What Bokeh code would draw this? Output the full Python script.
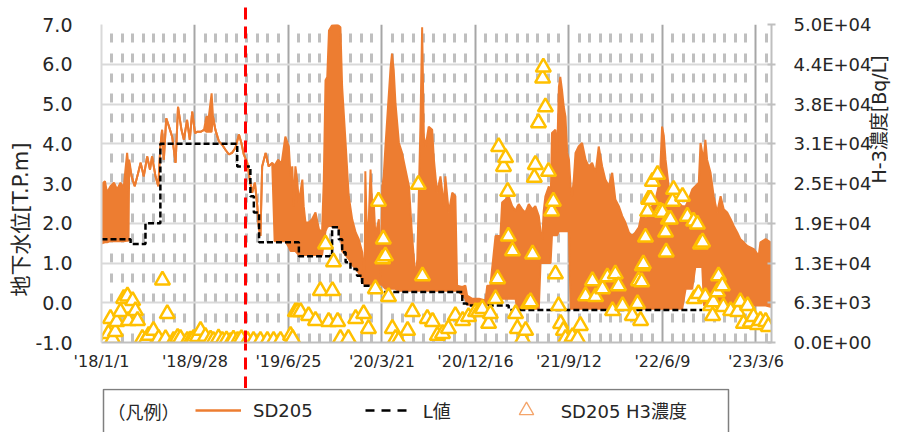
import math
import numpy as np
import pandas as pd
from bokeh.plotting import figure
from bokeh.layouts import column
from bokeh.models import (Range1d, LinearAxis, FixedTicker, PrintfTickFormatter, Legend,
                          LegendItem, Label, Title)
from bokeh.embed import file_html
from bokeh.resources import INLINE

# ---------------- data ----------------
START = pd.Timestamp("2018-01-01")
END_DAY = 1935                      # axis end (days after 2018-01-01)
EVENT_DATE = "2019-02-21"           # red dashed marker

# SD205 groundwater level envelope: days after 2018-01-01, lower / upper value [T.P.m]
wl_days = [0, 3, 10, 16, 26, 36, 45, 55, 64, 74, 78, 80,
           87, 96, 106, 113, 122, 132, 140, 146, 156, 164, 170, 175, 180, 187, 195, 204, 214,
           221, 231, 238, 247, 255, 262, 270, 276, 286, 296, 303, 310, 318, 322, 329, 339, 348,
           358, 368, 377, 387, 397, 404, 411, 421, 428, 435, 443, 450, 454, 459, 464, 474, 483,
           493, 500, 510, 520, 531, 541, 546, 551, 555, 560, 565, 570, 580, 584, 589, 599, 608,
           618, 628, 637, 642, 647, 652, 657, 666, 681, 690, 695, 705, 714, 724, 734, 743, 753,
           760, 762, 767, 772, 777, 782, 786, 791, 801, 806, 811, 815, 820, 825, 835, 839, 844,
           849, 859, 868, 878, 888, 897, 907, 912, 917, 921, 926, 931, 936, 945, 955, 960, 969,
           979, 989, 993, 1003, 1013, 1022, 1027, 1042, 1051, 1056, 1071, 1090, 1109, 1114, 1123,
           1138, 1152, 1157, 1167, 1176, 1186, 1196, 1200, 1205, 1215, 1224, 1234, 1244, 1253,
           1263, 1268, 1273, 1277, 1282, 1292, 1297, 1301, 1311, 1316, 1321, 1325, 1330, 1335,
           1340, 1345, 1350, 1355, 1359, 1364, 1369, 1378, 1388, 1398, 1407, 1417, 1427, 1436,
           1446, 1455, 1465, 1475, 1484, 1494, 1504, 1513, 1523, 1532, 1542, 1552, 1561, 1571,
           1581, 1590, 1600, 1609, 1614, 1619, 1624, 1629, 1638, 1653, 1667, 1677, 1687, 1696,
           1706, 1715, 1725, 1730, 1735, 1740, 1744, 1749, 1759, 1768, 1778, 1788, 1797, 1807,
           1817, 1826, 1836, 1845, 1855, 1865, 1884, 1898, 1903, 1918, 1932, 1935]
wl_low = [1.50, 1.50, 1.52, 1.52, 1.55, 1.55, 1.55, 1.55, 1.55, 1.56, 1.56, 3.50,
          3.18, 2.93, 3.27, 3.52, 3.18, 3.68, 3.35, 3.68, 3.18, 2.93, 3.93, 4.35, 3.60, 4.64, 4.43, 4.18, 3.52,
          4.93, 4.35, 4.10, 4.60, 4.10, 4.81, 4.27, 4.30, 4.30, 4.35, 4.30, 4.30, 4.30, 4.68, 4.35, 4.06, 3.98,
          3.85, 3.73, 3.77, 3.90, 4.23, 4.02, 3.73, 3.52, 3.10, 2.77, 3.02, 2.43, 1.93, 1.68, 3.43, 3.77, 3.43,
          3.52, 1.55, 1.55, 1.55, 1.55, 1.40, 1.30, 1.30, 1.30, 1.30, 1.25, 1.20, 1.20, 1.20, 1.20, 1.20, 1.20,
          1.20, 1.20, 1.20, 1.50, 1.80, 1.90, 1.93, 1.93, 1.93, 1.80, 1.30, 1.20, 1.10, 0.95, 0.85, 0.75, 0.60,
          0.45, 0.45, 0.45, 0.45, 0.45, 0.45, 0.45, 0.45, 0.45, 0.45, 0.45, 0.40, 0.35, 0.35, 0.35, 0.35, 0.35,
          0.35, 0.30, 0.30, 0.30, 0.30, 0.30, 0.30, 0.30, 0.30, 0.30, 0.30, 0.30, 0.30, 0.30, 0.30, 0.30, 0.30,
          0.30, 0.30, 0.30, 0.30, 0.30, 0.30, 0.30, 0.20, 0.10, -0.05, -0.05, -0.05, -0.05, -0.05, 0.00,
          0.10, 0.10, 0.10, 0.10, 0.10, 0.10, 0.10, -0.15, -0.15, -0.15, -0.15, -0.15, -0.15, -0.15,
          -0.15, 1.00, 1.00, 1.00, 1.00, 1.00, 1.00, 1.70, 1.70, 1.70, 1.80, 1.80, 1.80, 1.80,
          1.80, 1.80, 1.80, -0.15, -0.15, -0.15, -0.15, -0.15, -0.15, -0.15, -0.15, -0.15, -0.15, -0.15,
          -0.15, -0.15, -0.15, -0.15, -0.15, -0.15, -0.15, -0.15, -0.15, -0.15, -0.15, -0.15, -0.15, -0.15,
          -0.15, -0.15, -0.15, -0.15, -0.15, -0.15, -0.15, -0.15, -0.15, -0.15, -0.15, -0.15, 0.35, 0.35,
          0.35, 0.90, 0.90, 0.90, 0.90, -0.07, -0.07, -0.07, -0.07, -0.07, -0.07, -0.07, -0.07, -0.07,
          -0.07, -0.07, -0.07, -0.07, -0.07, -0.07, -0.07, -0.07, -0.07, -0.07, -0.10, -0.10]
wl_high = [2.10, 3.00, 3.06, 2.77, 2.93, 3.02, 2.85, 3.02, 2.90, 3.77, 3.40, 3.60,
           3.18, 2.93, 3.27, 3.52, 3.18, 3.68, 3.35, 3.68, 3.18, 2.93, 3.93, 4.35, 3.60, 4.64, 4.43, 4.18, 3.52,
           4.93, 4.35, 4.10, 4.60, 4.10, 4.81, 4.27, 4.30, 4.30, 4.35, 4.68, 4.68, 5.27, 4.68, 4.35, 4.06, 3.98,
           3.85, 3.73, 3.77, 3.90, 4.23, 4.02, 3.73, 3.52, 3.10, 2.77, 3.02, 2.43, 1.93, 1.68, 3.43, 3.77, 3.43,
           3.52, 3.45, 3.60, 3.50, 4.18, 3.93, 3.18, 3.43, 2.43, 3.43, 3.10, 2.52, 3.10, 2.43, 2.02, 2.02, 2.10,
           2.27, 1.85, 1.77, 3.10, 5.60, 5.68, 6.85, 6.98, 7.00, 6.93, 5.43, 4.02, 2.68, 2.10, 1.77, 1.60, 1.27,
           0.60, 3.31, 1.50, 2.10, 3.35, 2.43, 2.60, 1.68, 2.10, 0.60, 2.93, 3.18, 3.93, 4.60, 5.93, 6.27, 5.85,
           5.02, 4.02, 3.77, 3.35, 2.93, 1.68, 0.60, 1.10, 2.93, 4.43, 6.93, 4.18, 3.93, 4.43, 4.35, 3.60, 2.77,
           3.18, 2.43, 3.18, 2.27, 2.77, 2.68, 0.43, 0.40, 0.43, 0.18, 0.10, 0.10, 0.06, 0.43, 0.43,
           1.68, 1.68, 2.52, 2.60, 2.68, 2.43, 2.31, 2.40, 2.48, 2.35, 2.27, 2.48, 2.35, 2.43,
           2.18, 1.80, 1.60, 2.30, 2.68, 2.93, 2.40, 4.27, 4.35, 3.77, 5.43, 5.68, 5.35, 4.93,
           4.68, 3.77, 3.60, 2.90, 2.68, 3.10, 3.77, 3.93, 4.02, 3.60, 3.43, 3.52, 3.27, 3.93,
           3.43, 3.10, 2.93, 3.27, 2.60, 2.43, 2.18, 2.02, 1.77, 1.68, 1.77, 1.90, 2.27, 2.10,
           2.18, 2.43, 2.60, 2.93, 3.40, 4.43, 4.20, 3.60, 2.93, 2.68, 2.52, 2.43, 2.43, 2.60,
           2.85, 2.93, 3.02, 4.02, 3.77, 3.70, 4.10, 3.60, 3.27, 2.68, 2.27, 2.68, 2.35, 2.27,
           2.10, 1.93, 1.77, 1.60, 1.52, 1.43, 1.35, 1.18, 1.52, 1.60, 1.52, 1.50]

# L値 (step, value holds from each day until the next)
l_days = [0, 84, 127, 170, 392, 430, 440, 455, 570, 666, 685, 695, 705, 719, 738, 753, 790,
          1042, 1056, 1176, 1735]
l_vals = [1.60, 1.48, 2.00, 4.00, 3.43, 2.68, 2.27, 1.52, 1.17, 1.90, 1.60, 1.27, 1.02, 0.85,
          0.68, 0.43, 0.27, -0.02, -0.07, -0.18, -0.18]

# SD205 H3 concentration [Bq/L]
h3_days = [12, 20, 26, 32, 40, 44, 55, 64, 75, 78, 90, 98, 104, 118, 127, 136, 150, 165, 176, 185,
           190, 208, 220, 228, 248, 257, 266, 277, 286, 300, 315, 323, 338, 349, 361, 373, 381, 393,
           404, 422, 439, 459, 479, 497, 517, 546, 552, 560, 566, 575, 598, 618, 632, 647, 656, 667,
           670, 682, 690, 713, 734, 757, 771, 791, 800, 812, 814, 820, 829, 840, 849, 858, 884, 898,
           915, 927, 941, 956, 970, 985, 1002, 1022, 1043, 1060, 1080, 1089, 1100, 1118, 1123, 1138,
           1144, 1147, 1161, 1167, 1173, 1175, 1187, 1196, 1201, 1216, 1225, 1233, 1239, 1245, 1250,
           1253, 1262, 1274, 1276, 1282, 1291, 1300, 1305, 1311, 1320, 1326, 1334, 1340, 1354, 1360,
           1375, 1383, 1398, 1418, 1427, 1447, 1461, 1476, 1484, 1493, 1505, 1533, 1548, 1551, 1557,
           1560, 1562, 1565, 1571, 1577, 1580, 1586, 1591, 1606, 1614, 1620, 1629, 1631, 1637, 1643,
           1649, 1652, 1678, 1692, 1710, 1712, 1721, 1724, 1730, 1736, 1744, 1759, 1765, 1767, 1779,
           1782, 1793, 1796, 1817, 1837, 1845, 1854, 1866, 1874, 1883, 1894, 1903, 1918, 1926]
h3_vals = [200, 1400, 3750, 600, 1700, 3280, 4840, 6900, 7300, 3440, 6560, 5000, 3440, 620, 300, 1100,
           1880, 620, 9800, 600, 4530, 310, 800, 620, 310, 400, 620, 900, 1880, 940, 500, 310, 700, 310,
           400, 150, 500, 310, 600, 310, 310, 310, 310, 310, 310, 1100, 620, 4840, 4840, 4840, 4220, 3440,
           8130, 15470, 3280, 8130, 12660, 3280, 620, 620, 3750, 4530, 2190, 8440, 22190, 13130, 16250,
           13600, 7190, 2190, 620, 300, 1880, 4840, 24840, 10470, 3750, 3280, 1100, 1400, 2190, 4220,
           3440, 4060, 4840, 4840, 5310, 3000, 4530, 6880, 10000, 30780, 27660, 29060, 23750, 16700,
           14380, 4530, 2190, 620, 1880, 6090, 6400, 13900, 25940, 27970, 34530, 41560, 43280, 37030,
           26880, 20630, 22190, 10780, 5780, 2970, 1880, 620, 300, 900, 620, 2660, 7340, 9690, 7190,
           8440, 10310, 5000, 10780, 8910, 5780, 4220, 6090, 9690, 3440, 9530, 12030, 12340, 16560,
           20600, 22500, 22500, 25310, 26410, 20630, 20470, 17340, 14220, 19380, 19380, 22190, 24060,
           22970, 19840, 19060, 6880, 18590, 7660, 15470, 15780, 7190, 5780, 4220, 6400, 7970, 10470,
           8910, 5630, 5000, 4840, 6410, 3000, 5780, 3200, 4060, 2800, 3440, 3280, 2500]

# axis ticks
x_tick_days = [0, 270, 540, 810, 1080, 1350, 1620, 1890]
x_tick_labels = ["'18/1/1", "'18/9/28", "'19/6/25", "'20/3/21", "'20/12/16", "'21/9/12",
                 "'22/6/9", "'23/3/6"]
y_ticks = [-1, 0, 1, 2, 3, 4, 5, 6, 7]
h3_ticks = [0, 6250, 12500, 18750, 25000, 31250, 37500, 43750, 50000]
h3_tick_labels = ["0.0E+00", "6.3E+03", "1.3E+04", "1.9E+04", "2.5E+04", "3.1E+04",
                  "3.8E+04", "4.4E+04", "5.0E+04"]
legend_labels = ["SD205", "L値", "SD205 H3濃度"]

# ---------------- helpers ----------------
def to_dt(days):
    return START + pd.to_timedelta(np.asarray(days), unit="D")

def to_ms(days):
    return [int((START + pd.Timedelta(days=int(d))).value // 10**6) for d in days]

ORANGE = "#ED7D31"
GOLD = "#FFC000"
RED = "#FF0000"
TEXT = "#262626"
FONT = "DejaVu Sans, Noto Sans CJK JP"

order = np.argsort(h3_days, kind="stable")
h3_x = to_dt(np.asarray(h3_days)[order])
h3_y = np.asarray(h3_vals)[order]
ev_ms = int(pd.Timestamp(EVENT_DATE).value // 10**6)

# ---------------- main chart ----------------
p = figure(width=910, height=388, x_axis_type="datetime",
           x_range=Range1d(START, START + pd.Timedelta(days=END_DAY)),
           y_range=Range1d(-1, 7), output_backend="svg", toolbar_location=None,
           min_border_left=101, min_border_right=139, min_border_top=24, min_border_bottom=44)
p.title.text = ""
p.outline_line_color = None
p.extra_y_ranges = {"h3": Range1d(0, 50000)}

# x axis (its single minor tick draws the red dashed event marker inside the plot)
x_ticks_ms = to_ms(x_tick_days)
xa = p.xaxis[0]
xa.ticker = FixedTicker(ticks=x_ticks_ms, minor_ticks=[ev_ms])
xa.major_label_overrides = dict(zip(x_ticks_ms, x_tick_labels))
xa.major_tick_in = 0
xa.major_tick_out = 0
xa.minor_tick_in = 320
xa.minor_tick_out = 0
xa.minor_tick_line_color = RED
xa.minor_tick_line_width = 3
xa.minor_tick_line_dash = "12 7"
xa.axis_line_color = "#BFBFBF"
xa.axis_line_width = 2
xa.major_label_text_font = FONT
xa.major_label_text_font_size = "16px"
xa.major_label_text_color = TEXT
xa.major_label_standoff = 9

def marker_axis(tick_in, tick_out):
    ax = LinearAxis(ticker=FixedTicker(ticks=[], minor_ticks=[ev_ms]))
    ax.axis_line_color = None
    ax.major_tick_in = 0
    ax.major_tick_out = 0
    ax.minor_tick_in = tick_in
    ax.minor_tick_out = tick_out
    ax.minor_tick_line_color = RED
    ax.minor_tick_line_width = 3
    ax.minor_tick_line_dash = "12 7"
    ax.major_label_text_font_size = "1px"
    ax.major_label_standoff = 0
    return ax

# extensions of the event marker above and below the plot area
p.add_layout(marker_axis(0, 17), "above")
p.add_layout(marker_axis(30, 15), "below")

# left axis
ya = p.yaxis[0]
yticker = FixedTicker(ticks=y_ticks)
ya.ticker = yticker
ya.formatter = PrintfTickFormatter(format="%.1f")
ya.major_tick_in = 0
ya.major_tick_out = 0
ya.minor_tick_in = 0
ya.minor_tick_out = 0
ya.axis_line_color = "#D9D9D9"
ya.axis_line_width = 2
ya.major_label_text_font = FONT
ya.major_label_text_font_size = "19px"
ya.major_label_text_color = TEXT
ya.major_label_standoff = 29

p.add_layout(Title(text="地下水位[T.P.m]", align="left", offset=46, standoff=0,
                   text_font=FONT, text_font_size="21px", text_font_style="normal",
                   text_color=TEXT), "left")

# right axis
ra = LinearAxis(y_range_name="h3", ticker=FixedTicker(ticks=h3_ticks),
                major_label_overrides=dict(zip(h3_ticks, h3_tick_labels)))
ra.major_tick_in = 4
ra.major_tick_out = 4
ra.major_tick_line_color = "#BFBFBF"
ra.major_tick_line_width = 2
ra.minor_tick_in = 0
ra.minor_tick_out = 0
ra.axis_line_color = "#BFBFBF"
ra.axis_line_width = 2
ra.major_label_text_font = FONT
ra.major_label_text_font_size = "18px"
ra.major_label_text_color = TEXT
ra.major_label_standoff = 18
ra.axis_label = "H-3濃度[Bq/L]"
ra.axis_label_text_font = FONT
ra.axis_label_text_font_size = "19px"
ra.axis_label_text_font_style = "normal"
ra.axis_label_text_color = TEXT
ra.axis_label_standoff = 5
if "axis_label_orientation" in ra.properties():
    ra.axis_label_orientation = math.pi / 2
p.add_layout(ra, "right")

# grids
yg = p.ygrid[0]
yg.ticker = yticker
yg.grid_line_color = "#D9D9D9"
yg.grid_line_width = 2
minor_days = [d for d in range(30, END_DAY + 1, 30) if d % 270 != 0]
xg = p.xgrid[0]
xg.ticker = FixedTicker(ticks=x_ticks_ms, minor_ticks=to_ms(minor_days))
xg.grid_line_color = "#A6A6A6"
xg.grid_line_width = 2
xg.minor_grid_line_color = "#BFBFBF"
xg.minor_grid_line_width = 3
xg.minor_grid_line_dash = "9 11"

# series
wl_x = to_dt(wl_days)
p.varea(x=wl_x, y1=wl_low, y2=wl_high, fill_color=ORANGE)
p.line(wl_x, wl_high, line_color=ORANGE, line_width=2)
p.line(wl_x, wl_low, line_color=ORANGE, line_width=2)
p.step(to_dt(l_days), l_vals, mode="after", line_color="black", line_width=2.5,
       line_dash="6 3")
p.scatter(h3_x, h3_y, y_range_name="h3", marker="triangle", size=15,
          line_color=GOLD, line_width=2.5, fill_color="white")

# ---------------- legend strip (frame aligned with the chart: x = page pixels) ----------------
lg = figure(width=910, height=44, x_range=Range1d(101, 771), y_range=Range1d(0, 44),
            output_backend="svg", toolbar_location=None,
            min_border_left=101, min_border_right=139, min_border_top=0, min_border_bottom=0,
            x_axis_location=None, y_axis_location=None)
lg.title.text = ""
lg.outline_line_color = None
lg.grid.visible = False
lg.quad(left=[103], right=[728], top=[43], bottom=[-20], fill_color="white",
        line_color="#7F7F7F", line_width=1.5)
lg.add_layout(Label(x=107, y=22, text="（凡例）", text_align="left", text_baseline="middle",
                    text_font="Noto Sans CJK JP", text_font_size="18px", text_color=TEXT))
# legend key renderers (a single empty point each, so only their legend glyph shows)
nan = [float("nan")]
r1 = lg.line(x=nan, y=nan, line_color=ORANGE, line_width=2.5)
r2 = lg.line(x=nan, y=nan, line_color="black", line_width=2.5, line_dash="9 7")
r3 = lg.scatter(x=nan, y=nan, marker="triangle", size=15, line_color="#F4A46A",
                line_width=1.3, fill_color=None)
legend = Legend(items=[LegendItem(label=legend_labels[0], renderers=[r1]),
                       LegendItem(label=legend_labels[1], renderers=[r2]),
                       LegendItem(label=legend_labels[2], renderers=[r3])],
                location=(94, 4), orientation="horizontal", glyph_width=46, glyph_height=36,
                label_standoff=12, spacing=52, padding=0, margin=0,
                border_line_color=None, background_fill_alpha=0,
                label_text_font=FONT, label_text_font_size="18px", label_text_color=TEXT)
lg.add_layout(legend)

open("out.html", "w").write(file_html(column(p, lg), INLINE))
